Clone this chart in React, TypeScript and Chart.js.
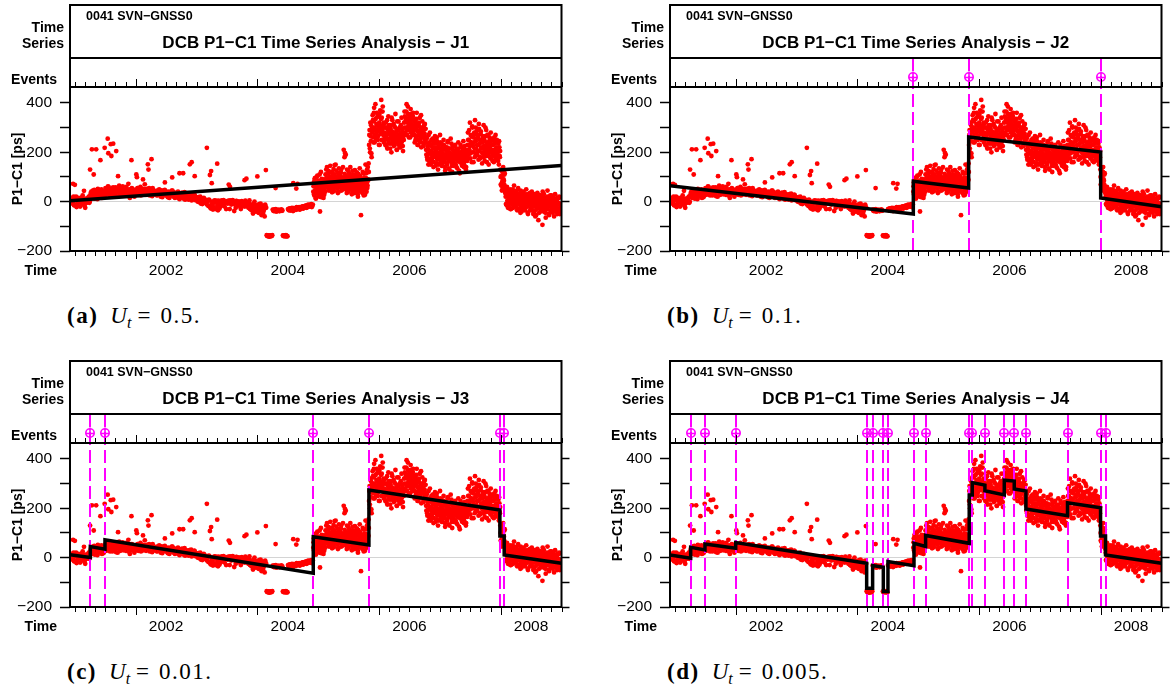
import React, { useEffect, useRef } from 'react';
import { Chart, registerables } from 'chart.js';
Chart.register(...registerables);

// ---------- axes ----------
const X_MIN = 2000.92;
const X_MAX = 2009.0;
const Y_MIN = -200;
const Y_MAX = 464.5;
const yTickValues = [-200, -100, 0, 100, 200, 300, 400];
const yLabelValues = [-200, 0, 200, 400];
const yearLabels = ['2002', '2004', '2006', '2008'];
const yearLabelPositions = [2002.5, 2004.5, 2006.5, 2008.5];
const TICK_START = 2001;
const TICK_COUNT = 49; // every two months up to 2009
const TICK_STEP = 1 / 6;

// ---------- observations (P1-C1 DCB, ps) ----------
const EARLY_START = 2000.92;
const EARLY_STEP = 1 / 60;
const earlyValues = [
  10, -5, 15, 0, -15, 8, 20, -10, 5, 12, -20, 3, 18, -8, 7, -25, 10, 2, 15, -5,
  25, 40, 15, 35, 48, 20, 30, 10, 42, 28, 22, 50, 33, 18, 38,
  55, 40, 30, 60, 45, 35, 50, 25, 48, 42,
  58, 38, 20, 52, 45, 30, 40, 62, 35, 44,
  28, 50, 38, 46, 15, 42, 55, 33, 40, 48,
  45, 30, 55, 38, 48, 25, 40, 52, 35, 42,
  28, 46, 38, 55, 32, 40, 22, 48, 36, 30,
  44, 25, 38, 50, 30, 35, 18, 42, 28, 33,
  40, 22, 30, 15, 36, 26, 45, 20, 32, 25,
  18, 35, 24, 10, 30, 20, 28, 12, 38, 22,
  15, 25, 8, 30, 18, 5, 22, 14, 26, 10,
  12, 0, 18, 5, -8, 10, 2, 15, -5, 6,
  -12, 3, 8, -20, -28, -15, -32, -5, 0, 4,
  -25, -35, -10, 2, -18, 5, -3, -8, 0, -30,
  2, -6, -2, 5, -12, 0, -4, -38, -8, 3,
  -5, -15, 0, -22, -8, -2, -18, -10, 4, -6,
  -10, -25, 5, -18, -35, -12, -28, 0, -40, -20,
  -15, -45, -30, -8, -55, -25, -38, -60, -20,
  -136, -140, -138, -141, -137, -139,
  -32, -38, -35, -30, -40, -36, -33, -38, -34, -37,
  -137, -140, -139, -136, -141,
  -30, -35, -28, -32, -25, -38, -30, -27, -33, -24,
  -29, -22, -31, -26, -20, -28, -18, -24, -15, -22,
  -12, -20, -16, -10, -18,
];
// second daily sample of the same period (half a step later)
const earlyValuesB = [
  -8, 12, 0, 20, -15, 5, -22, 10, 15, -3, 8, -12, 25, 2, -18, 12, -5, 6, 20, 0,
  35, 18, 45, 28, 12, 40, 25, 52, 20, 36, 45, 15, 30, 42, 26,
  48, 30, 62, 38, 25, 52, 40, 58, 32, 45,
  22, 50, 40, 65, 28, 46, 55, 30, 48, 38,
  60, 35, 25, 50, 42, 30, 52, 38, 20, 45,
  38, 55, 28, 45, 60, 35, 48, 30, 50, 40,
  52, 32, 44, 25, 48, 36, 55, 30, 42, 38,
  26, 45, 32, 40, 20, 46, 35, 28, 48, 30,
  36, 18, 40, 28, 35, 45, 24, 38, 15, 30,
  28, 40, 14, 32, 22, 36, 16, 26, 8, 30,
  22, 12, 28, 18, 32, 12, 20, 28, 6, 18,
  5, 15, -2, 20, 8, -10, 12, 0, 8, -6,
  2, -18, 6, -25, -10, 0, -22, 5, -30, -4,
  -15, 4, -28, -5, 3, -12, 6, -20, -2, 0,
  -8, 4, -30, -4, 0, 6, -10, -2, -25, 2,
  -12, 0, -6, -30, 2, -10, -4, -20, -1, -14,
  -20, -5, -30, -12, -22, -48, -8, -35, -15, -28,
  -42, -10, -22, -36, -18, -50, -30, -12, -25,
  -139, -137, -142, -138, -140, -136,
  -36, -31, -39, -34, -37, -33, -38, -35, -31, -36,
  -139, -137, -141, -138, -140,
  -33, -27, -36, -29, -31, -26, -34, -28, -22, -30,
  -25, -32, -24, -28, -19, -26, -22, -17, -25, -14,
  -20, -13, -18, -22, -12,
];

const LATE_START = 2004.92;
const LATE_STEP = 1 / 120;
const lateValues = [
  40, 78, 25, 95, 60, 12, 70, 48, 105, 33, 58, 85, 20, 66, 44, 120, 52, 30, 75, 62, 15, 90, 47, 68,
  110, 72, 95, 140, 60, 88, 125, 45, 100, 80,
  65, 118, 92, 38, 105, 75, 132, 58, 96, 84,
  150, 70, 100, 52, 88, 115, 40, 95, 78, 108,
  62, 130, 85, 48, 98, 72, 210, 56, 112, 90,
  190, 68, 35, 102, 80, 125, 50, 92, 66, 140,
  58, 85, 30, 110, 74, 45, 96, 62, 128, 40,
  88, 55, 118, 72, 20, 98, 64, 42, 105, 78,
  -55, 60, 92, 35, 80, 115, 50, 70, 28, 150,
  95, 40, 130, 65, 85, 155,
  230, 290, 200, 265, 310, 180,
  300, 350, 260, 325, 380, 240, 290, 335, 275, 360,
  310, 250, 345, 285, 320, 230, 370, 295, 412, 340,
  305, 385, 270, 315, 255,
  280, 230, 320, 260, 300, 215, 275, 345, 250, 290,
  235, 310, 265, 200, 285, 330, 245, 270, 225, 305,
  260, 355, 240, 280, 210, 295, 250, 325, 230, 270,
  300, 220, 260, 340, 245, 285, 205, 265,
  320, 365, 280, 340, 300, 395, 270, 330, 355, 290,
  310, 345, 260, 375, 315, 285, 335, 300, 360, 275,
  290, 240, 320, 265, 300, 360, 250, 285, 230, 310,
  275, 340, 255, 295, 220, 280, 325, 260, 300, 235,
  270, 315, 250,
  240, 190, 260, 170, 215, 150, 230, 195, 280, 175,
  205, 250, 160, 220, 185, 140, 235, 200, 265, 180,
  210, 155, 245, 190, 130, 225, 175, 200, 270, 160,
  195, 235, 145, 210, 180, 250, 165, 190, 125, 220,
  175, 205, 150, 240, 185, 135, 215, 170, 195, 255,
  160, 190, 120, 225, 175, 145, 205, 180, 230, 150,
  170, 210, 135, 195, 240, 165, 185, 115, 200, 175,
  220, 150, 185, 160, 245, 140, 195, 170, 210, 130,
  180, 200,
  230, 280, 190, 250, 210, 320, 175, 240, 265, 200,
  300, 225, 160, 270, 215, 330, 245, 190, 285, 230,
  205, 260, 170, 295, 235, 180, 275, 215, 250, 155,
  240, 200, 310, 225, 165, 265, 210, 290, 185, 235,
  220, 270, 150, 245, 200, 225, 280, 175, 210, 255,
  190, 230, 160, 260, 205, 240, 170, 215, 250, 185,
  200, 235, 150, 220, 180,
  130, 70, 105, 45, 95, 120, 60, 85, 110, 50,
  40, -10, 25, 60, 5, -25, 35, 15, -5, 50,
  20, -30, 45, 0, 30, -15, 10, 65, -20, 25,
  -5, 40, 15, -35, 20, 55, -10, 5, 30, -25,
  45, 0, -40, 20, 10, -15, 35, -5, 25, -30,
  5, 50, -20, 15, -45, 25, 0, -10, 30, -35,
  10, -25, 40, -5, 20, -50, 5, 30, -15, -60,
  15, -30, 0, 35, -20, -75, 10, -10, 25, -40,
  -5, 20, -35, -94, 5, -15, 30, -25, 0, -45,
  15, -30, -10, 45, -20, 5, -55, -5, 20, -35,
  -15, 25, -40, 0, -25, 10, -60, -10, 30, -30,
  -20, 5, -45, 15, -35, -5, 20, -50, -15,
];
// second daily sample of the same period (half a step later)
const lateValuesB = [
  62, 30, 88, 45, 15, 72, 100, 38, 55, 80, 25, 64, 110, 42, 70, 18, 92, 50, 35, 82, 58, 28, 76, 40,
  85, 130, 60, 98, 75, 115, 50, 92, 68, 145,
  100, 55, 82, 120, 70, 95, 42, 110, 78, 60,
  90, 125, 65, 100, 35, 85, 135, 72, 58, 96,
  118, 45, 88, 70, 140, 60, 92, 180, 75, 50,
  100, 82, 130, 55, 95, 40, 115, 70, 88, 60,
  105, 48, 78, 125, 62, 92, 35, 80, 55, 110,
  45, 95, 70, 30, 112, 58, 84, 135, 50, 66,
  88, 40, 75, 120, 55, 25, 98, 62, 85, 45,
  115, 72, 55, 140, 90, 120,
  270, 215, 320, 245, 195, 290,
  280, 330, 240, 360, 300, 270, 395, 255, 315, 290,
  345, 265, 300, 230, 355, 310, 275, 335, 250, 290,
  365, 280, 320, 240, 300,
  250, 300, 270, 225, 330, 255, 290, 240, 310, 275,
  215, 295, 260, 340, 235, 280, 250, 315, 270, 230,
  300, 245, 285, 210, 325, 265, 240, 290, 255, 220,
  275, 310, 235, 260, 295, 225, 270, 250,
  300, 345, 275, 330, 365, 290, 320, 385, 305, 260,
  340, 295, 325, 280, 355, 310, 270, 345, 300, 330,
  270, 310, 250, 295, 335, 265, 230, 305, 280, 320,
  245, 290, 270, 350, 240, 300, 260, 285, 225, 310,
  275, 250, 295,
  210, 255, 180, 225, 195, 270, 165, 240, 205, 150,
  230, 190, 175, 255, 215, 160, 245, 185, 220, 145,
  200, 260, 170, 235, 190, 150, 215, 185, 240, 170,
  205, 145, 225, 195, 160, 230, 180, 140, 210, 190,
  155, 220, 185, 245, 165, 200, 130, 215, 175, 195,
  235, 145, 180, 210, 160, 190, 225, 150, 175, 205,
  140, 190, 165, 215, 180, 125, 200, 160, 230, 170,
  185, 145, 210, 175, 195, 150, 225, 165, 185, 140,
  200, 165,
  210, 250, 175, 290, 225, 195, 270, 240, 160, 305,
  235, 260, 200, 280, 180, 245, 300, 215, 255, 190,
  270, 230, 315, 205, 250, 175, 285, 220, 240, 195,
  265, 215, 180, 250, 225, 300, 195, 240, 160, 270,
  205, 235, 185, 260, 215, 175, 245, 200, 230, 165,
  250, 210, 185, 235, 195, 270, 175, 220, 190, 240,
  165, 210, 245, 185, 205,
  100, 65, 125, 80, 55, 140, 90, 70, 115, 35,
  20, 55, -15, 35, 0, 45, -20, 25, 10, -30,
  40, 5, -10, 30, 50, -25, 15, -5, 35, 0,
  -20, 25, 45, -5, 10, -30, 30, 0, 15, -45,
  20, -10, 35, -25, 5, 40, -15, 10, -35, 25,
  -5, 15, -20, 30, -50, 0, 20, -10, 35, -30,
  -15, 10, -35, 25, 0, -20, 15, -40, 5, -10,
  -55, 20, -5, 30, -25, 0, -45, 10, -15, 25,
  -30, 5, -20, 40, -10, -40, 15, -25, 0, -65,
  -10, 10, -30, 20, -15, -50, 5, -20, 25, -40,
  0, -25, 10, -45, -5, 15, -35, -15, 5, -30,
  -20, 10, -50, -5, -30, 15, -40, -10, -25,
];

const outlierYears = [
  2000.97, 2001.0, 2001.15, 2001.25, 2001.28, 2001.35, 2001.31, 2001.42, 2001.49, 2001.54,
  2001.59, 2001.63, 2001.55, 2001.6, 2001.68, 2001.71, 2001.93, 2002.01, 2002.02, 2002.12,
  2002.2, 2002.26, 2002.21, 2002.15, 2001.88, 2002.48, 2002.6, 2002.72, 2002.78, 2002.89,
  2002.92, 2002.97, 2003.17, 2003.34, 2003.24, 2003.22, 2003.25, 2003.53, 2003.55, 2003.79,
  2003.82, 2004.0, 2004.14, 2004.3, 2004.59, 2004.64, 2004.66, 2005.03, 2005.27, 2005.44,
];
const outlierValues = [
  72, 68, 44, 130, 212, 212, 110, 168, 218, 255,
  233, 235, 196, 185, 205, 103, 168, 110, 99, 90,
  151, 172, 130, 70, 72, 78, 98, 115, 115, 151,
  160, 103, 218, 154, 124, 108, 75, 69, 60, 87,
  93, 102, 128, 55, 75, 53, 72, -40, 148, 197,
];

// ---------- fitted piecewise-linear models ----------
const fitJ1Breaks = [2000.92, 2009.0];
const fitJ1Starts = [4];
const fitJ1Ends = [146];

const fitJ2Breaks = [2000.92, 2004.92, 2005.83, 2008.0, 2009.0];
const fitJ2Starts = [64, 83, 262, 15];
const fitJ2Ends = [-50, 55, 201, -21];

const fitJ3Breaks = [2000.92, 2001.254, 2001.495, 2004.919, 2005.834, 2007.987, 2008.058, 2009.0];
const fitJ3Starts = [12, 45, 72, 85, 274, 88, 11];
const fitJ3Ends = [1, 34, -63, 51, 193, 88, -23];

const fitJ4Breaks = [
  2000.92, 2001.26, 2001.495, 2002.0, 2004.153, 2004.251, 2004.427, 2004.503, 2004.931, 2005.122,
  2005.839, 2005.889, 2006.097, 2006.415, 2006.579, 2006.771, 2007.455, 2007.998, 2008.08, 2009.0,
];
const fitJ4Starts = [11, 42, 55, 61, -124, -32, -137, -16, 58, 90, 254, 304, 271, 314, 278, 197, 222, 88, 11];
const fitJ4Ends = [-2, 31, 38, -23, -124, -39, -137, -33, 45, 58, 254, 294, 254, 310, 270, 170, 202, 88, -23];

const panelIds = ['J1', 'J2', 'J3', 'J4'];
const panelLetters = ['(a)', '(b)', '(c)', '(d)'];
const panelUt = ['0.5.', '0.1.', '0.01.', '0.005.'];
const panelBreaks = [fitJ1Breaks, fitJ2Breaks, fitJ3Breaks, fitJ4Breaks];
const panelStarts = [fitJ1Starts, fitJ2Starts, fitJ3Starts, fitJ4Starts];
const panelEnds = [fitJ1Ends, fitJ2Ends, fitJ3Ends, fitJ4Ends];

const SANS = '"Liberation Sans", Arial, sans-serif';
const MAGENTA = '#ff00ff';

function buildObs() {
  const pts: { x: number; y: number }[] = [];
  earlyValues.forEach((v, i) => pts.push({ x: EARLY_START + i * EARLY_STEP, y: v }));
  earlyValuesB.forEach((v, i) => pts.push({ x: EARLY_START + (i + 0.5) * EARLY_STEP, y: v }));
  lateValues.forEach((v, i) => pts.push({ x: LATE_START + i * LATE_STEP, y: v }));
  lateValuesB.forEach((v, i) => pts.push({ x: LATE_START + (i + 0.5) * LATE_STEP, y: v }));
  outlierYears.forEach((t, i) => pts.push({ x: t, y: outlierValues[i] }));
  return pts;
}

function buildFit(breaks: number[], starts: number[], ends: number[]) {
  const pts: { x: number; y: number }[] = [];
  for (let k = 0; k < starts.length; k++) {
    pts.push({ x: breaks[k], y: starts[k] });
    pts.push({ x: breaks[k + 1], y: ends[k] });
  }
  return pts;
}

const fmt = (v: number) => (v < 0 ? '\u2212' + Math.abs(v) : String(v));

function makeDecor(id: string, events: number[]) {
  const BOX_TOP = 5;
  const HEAD_BOTTOM = 58;
  return {
    id: 'decor' + id,
    afterDatasetDraw(chart: any, args: any) {
      if (args.index !== 1) return;
      const ctx = chart.ctx;
      const xs = chart.scales.x;
      const a = chart.chartArea;
      ctx.save();
      ctx.strokeStyle = MAGENTA;
      ctx.lineWidth = 2;
      ctx.setLineDash([13, 5]);
      ctx.lineDashOffset = a.top - HEAD_BOTTOM;
      for (const ev of events) {
        const px = Math.round(xs.getPixelForValue(ev));
        ctx.beginPath();
        ctx.moveTo(px, a.top);
        ctx.lineTo(px, a.bottom);
        ctx.stroke();
      }
      ctx.restore();
    },
    afterDraw(chart: any) {
      const ctx = chart.ctx;
      const xs = chart.scales.x;
      const a = chart.chartArea;
      ctx.save();
      // event strip dashed lines + markers
      ctx.strokeStyle = MAGENTA;
      for (const ev of events) {
        const px = Math.round(xs.getPixelForValue(ev));
        ctx.lineWidth = 2;
        ctx.setLineDash([13, 5]);
        ctx.lineDashOffset = 0;
        ctx.beginPath();
        ctx.moveTo(px, HEAD_BOTTOM);
        ctx.lineTo(px, a.top);
        ctx.stroke();
        ctx.setLineDash([]);
        ctx.lineWidth = 1.6;
        ctx.beginPath();
        ctx.arc(px, 77, 4.2, 0, Math.PI * 2);
        ctx.moveTo(px - 4.7, 77.5);
        ctx.lineTo(px + 4.7, 77.5);
        ctx.moveTo(px, 71.5);
        ctx.lineTo(px, 82.5);
        ctx.stroke();
      }
      // boxes
      ctx.setLineDash([]);
      ctx.strokeStyle = '#000';
      ctx.lineWidth = 2;
      ctx.strokeRect(a.left, BOX_TOP, a.right - a.left, a.bottom - BOX_TOP);
      ctx.beginPath();
      ctx.moveTo(a.left, HEAD_BOTTOM);
      ctx.lineTo(a.right, HEAD_BOTTOM);
      ctx.moveTo(a.left, a.top);
      ctx.lineTo(a.right, a.top);
      ctx.stroke();
      // time ticks (event strip and bottom axis)
      ctx.lineWidth = 1;
      ctx.beginPath();
      for (let k = 0; k < TICK_COUNT; k++) {
        const v = TICK_START + k * TICK_STEP;
        const r = Math.round(v);
        const major = Math.abs(v - r) < 1e-6 && r % 2 === 0;
        const len = major ? 8 : 5;
        const px = Math.round(xs.getPixelForValue(v)) + 0.5;
        ctx.moveTo(px, a.top);
        ctx.lineTo(px, a.top - len);
        ctx.moveTo(px, a.bottom);
        ctx.lineTo(px, a.bottom + len);
      }
      ctx.stroke();
      // texts
      ctx.fillStyle = '#000';
      ctx.textBaseline = 'alphabetic';
      ctx.font = 'bold 12.5px ' + SANS;
      ctx.textAlign = 'left';
      ctx.fillText('0041 SVN\u2212GNSS0', 86, 20);
      ctx.font = 'bold 17px ' + SANS;
      ctx.textAlign = 'center';
      ctx.fillText('DCB P1\u2212C1 Time Series Analysis \u2212 ' + id, (a.left + a.right) / 2, 48);
      ctx.font = 'bold 14px ' + SANS;
      ctx.textAlign = 'right';
      ctx.fillText('Time', 64, 31.5);
      ctx.fillText('Series', 64, 48);
      ctx.fillText('Events', 57, 83.5);
      ctx.fillText('Time', 57, 275);
      ctx.restore();
    },
  };
}

function Panel({ index }: { index: number }) {
  const ref = useRef<HTMLCanvasElement | null>(null);
  const id = panelIds[index];
  const breaks = panelBreaks[index];
  useEffect(() => {
    if (!ref.current) return;
    const events = breaks.slice(1, -1);
    const chart = new Chart(ref.current, {
      type: 'scatter',
      data: {
        datasets: [
          {
            type: 'line',
            data: buildFit(breaks, panelStarts[index], panelEnds[index]),
            borderColor: '#000',
            borderWidth: 3.5,
            pointRadius: 0,
            fill: false,
            tension: 0,
          } as any,
          {
            type: 'scatter',
            data: buildObs(),
            backgroundColor: '#ff0000',
            borderWidth: 0,
            pointRadius: 2.4,
          } as any,
        ],
      },
      options: {
        responsive: false,
        animation: false,
        devicePixelRatio: 1,
        events: [],
        layout: { padding: { top: 87, left: 0, right: 0, bottom: 0 } },
        plugins: { legend: { display: false }, tooltip: { enabled: false } },
        scales: {
          x: {
            type: 'linear',
            min: X_MIN,
            max: X_MAX,
            afterBuildTicks: (s: any) => {
              s.ticks = yearLabelPositions.map((v) => ({ value: v }));
            },
            afterFit: (s: any) => {
              s.height = 39;
            },
            grid: { display: false, drawTicks: false },
            border: { display: false },
            ticks: {
              padding: 10,
              color: '#000',
              autoSkip: false,
              maxRotation: 0,
              minRotation: 0,
              font: { family: SANS, size: 15.5 },
              callback: (_v: any, i: number) => yearLabels[i],
            },
          },
          y: {
            type: 'linear',
            min: Y_MIN,
            max: Y_MAX,
            afterBuildTicks: (s: any) => {
              s.ticks = yTickValues.map((v) => ({ value: v }));
            },
            afterFit: (s: any) => {
              s.width = 70;
            },
            grid: {
              color: (c: any) => (c.tick && c.tick.value === 0 ? '#d4d4d4' : 'rgba(0,0,0,0)'),
              lineWidth: 1,
              tickColor: '#000',
              tickLength: 10,
              tickWidth: 1.5,
            },
            border: { display: false },
            ticks: {
              padding: 8,
              color: '#000',
              font: { family: SANS, size: 15.5 },
              callback: (v: any) => (yLabelValues.includes(v) ? fmt(v) : ''),
            },
            title: {
              display: true,
              text: 'P1\u2212C1 [ps]',
              color: '#000',
              font: { family: SANS, size: 14, weight: 'bold' },
              padding: { top: 10, bottom: 0 },
            },
          },
          y2: {
            type: 'linear',
            position: 'right',
            min: Y_MIN,
            max: Y_MAX,
            afterBuildTicks: (s: any) => {
              s.ticks = yTickValues.map((v) => ({ value: v }));
            },
            afterFit: (s: any) => {
              s.width = 38.5;
            },
            grid: { drawOnChartArea: false, tickColor: '#000', tickLength: 8, tickWidth: 1.5 },
            border: { display: false },
            ticks: { display: false },
          },
        },
      } as any,
      plugins: [makeDecor(id, events)],
    });
    return () => chart.destroy();
  }, [index]);
  const left = (index % 2) * 600;
  const top = Math.floor(index / 2) * 356;
  return (
    <>
      <canvas
        ref={ref}
        width={600}
        height={290}
        style={{ position: 'absolute', left, top, width: 600, height: 290 }}
      />
      <div
        style={{
          position: 'absolute',
          left: left + 67,
          top: top + 304,
          fontFamily: '"Liberation Serif", "Times New Roman", serif',
          fontSize: 23,
          lineHeight: '23px',
          whiteSpace: 'nowrap',
          color: '#000',
        }}
      >
        <b style={{ letterSpacing: 1.5 }}>{panelLetters[index]}</b>
        <i style={{ marginLeft: 12 }}>U</i>
        <i style={{ fontSize: 16, position: 'relative', top: 5 }}>t</i>
        <span style={{ marginLeft: 6 }}>=</span>
        <span style={{ marginLeft: 10, letterSpacing: 1.5 }}>{panelUt[index]}</span>
      </div>
    </>
  );
}

export default function App() {
  return (
    <div
      style={{
        position: 'absolute',
        left: 0,
        top: 0,
        width: 1173,
        height: 688,
        background: '#fff',
        overflow: 'hidden',
      }}
    >
      {[0, 1, 2, 3].map((i) => (
        <Panel key={i} index={i} />
      ))}
    </div>
  );
}
